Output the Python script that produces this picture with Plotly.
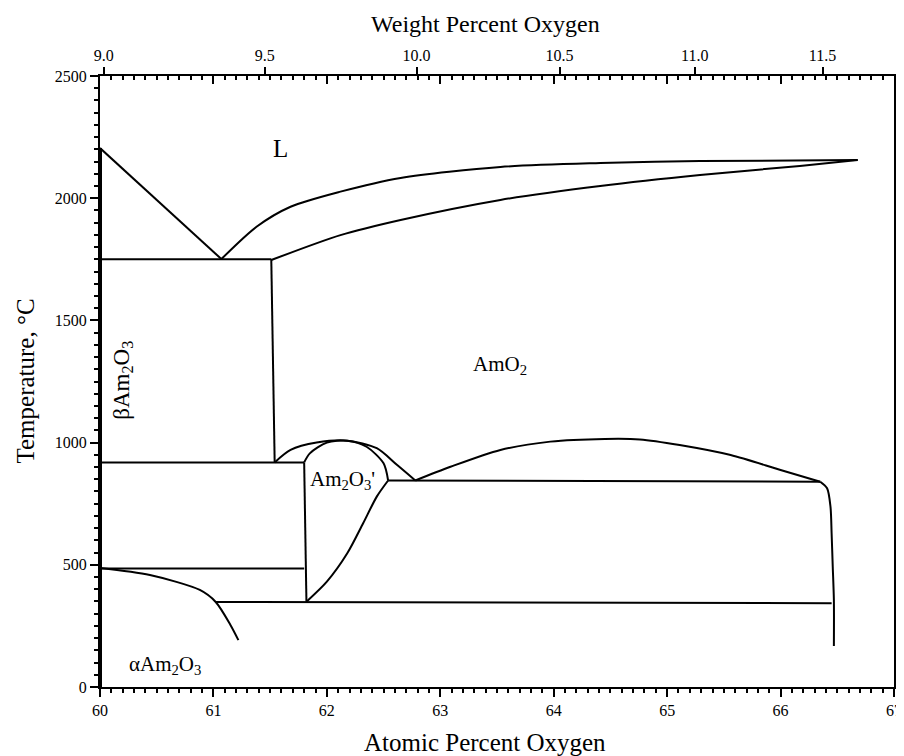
import plotly.graph_objects as go

# ---------------- data (atomic % O, temperature °C) ----------------
liq_left_x = [60.0, 61.07]
liq_left_T = [2205, 1751]

liq_right_x = [61.07, 61.38, 61.68, 62.12, 62.65, 63.53, 64.41, 65.29, 66.68]
liq_right_T = [1751, 1883, 1965, 2027, 2083, 2128, 2144, 2152, 2156]

sol_right_x = [61.51, 62.12, 62.65, 63.53, 64.41, 65.29, 66.17, 66.68]
sol_right_T = [1747, 1849, 1911, 1993, 2050, 2095, 2132, 2156]

eut_x = [60.0, 61.51]
eut_T = [1750, 1750]

vert_x = [61.51, 61.54]
vert_T = [1750, 919]

iso920_x = [60.0, 61.80]
iso920_T = [919, 919]

arc1_x = [61.54, 61.68, 61.91, 62.18, 62.44, 62.62, 62.78]
arc1_T = [919, 970, 1000, 1008, 977, 908, 845]

dome_x = [61.80, 61.85, 62.00, 62.18, 62.35, 62.50, 62.54]
dome_T = [919, 956, 1000, 1008, 983, 915, 845]

dome_left_x = [61.80, 61.82]
dome_left_T = [919, 349]

dome_low_x = [61.82, 62.00, 62.18, 62.32, 62.44, 62.54]
dome_low_T = [349, 431, 547, 670, 779, 845]

iso845_x = [62.54, 66.35]
iso845_T = [845, 840]

arc2_x = [62.78, 63.09, 63.53, 63.97, 64.45, 64.76, 65.11, 65.56, 66.00, 66.35]
arc2_T = [845, 901, 970, 1004, 1015, 1013, 990, 949, 888, 840]

amo2_x = [66.35, 66.41, 66.44, 66.45, 66.46, 66.47, 66.47]
amo2_T = [840, 813, 738, 629, 492, 356, 168]

iso485_x = [60.0, 61.80]
iso485_T = [485, 485]

iso345_x = [61.02, 66.45]
iso345_T = [348, 343]

alpha_x = [60.0, 60.44, 60.88, 61.02, 61.15, 61.22]
alpha_T = [487, 458, 397, 348, 254, 192]

left_x = [60.0, 60.0]
left_T = [0, 2205]

# weight percent tick labels for the top axis
wt_ticks = [9.0, 9.5, 10.0, 10.5, 11.0, 11.5]
M_AM, M_O = 243.0, 16.0


def wt_to_at(w):
    w = w / 100.0
    r = (w / M_O) / ((1 - w) / M_AM)
    return 100.0 * r / (1 + r)


wt_pos = [wt_to_at(w) for w in wt_ticks]

# ---------------- figure ----------------
fig = go.Figure()
LW = 2
col = "black"


def add(x, y, smooth=False, width=LW):
    fig.add_trace(go.Scatter(
        x=x, y=y, mode="lines",
        line=dict(color=col, width=width, shape="spline" if smooth else "linear",
                  smoothing=0.8),
        hoverinfo="skip", showlegend=False))


add(left_x, left_T, width=4)
add(liq_left_x, liq_left_T)
add(liq_right_x, liq_right_T, True)
add(sol_right_x, sol_right_T, True)
add(eut_x, eut_T)
add(vert_x, vert_T)
add(iso920_x, iso920_T)
add(arc1_x, arc1_T, True)
add(dome_x, dome_T, True)
add(dome_left_x, dome_left_T)
add(dome_low_x, dome_low_T, True)
add(iso845_x, iso845_T)
add(arc2_x, arc2_T, True)
add(amo2_x, amo2_T, True)
add(iso485_x, iso485_T)
add(iso345_x, iso345_T)
add(alpha_x, alpha_T, True)

# invisible traces to activate top axes
fig.add_trace(go.Scatter(x=[60, 67], y=[0, 0], xaxis="x2", mode="markers",
                         marker=dict(opacity=0), hoverinfo="skip", showlegend=False))
fig.add_trace(go.Scatter(x=[60, 67], y=[0, 0], xaxis="x3", mode="markers",
                         marker=dict(opacity=0), hoverinfo="skip", showlegend=False))

FONT = "Liberation Serif"
tickfont = dict(family=FONT, size=16, color="black")

# page has an 8px body margin, so plot area 100..894 x 76..687 on the page
fig.update_layout(
    width=904, height=756,
    margin=dict(l=92, r=18, t=68, b=77, autoexpand=False),
    paper_bgcolor="white", plot_bgcolor="white",
    font=dict(family=FONT, color="black"),
    xaxis=dict(range=[60, 67], dtick=1, tick0=60, ticks="outside", ticklen=8,
               tickwidth=1.5, tickcolor="black", showline=True, linecolor="black",
               linewidth=2, showgrid=False, zeroline=False, tickfont=tickfont,
               automargin=False,
               minor=dict(dtick=0.1, ticklen=4, tickcolor="black", ticks="outside")),
    xaxis3=dict(range=[60, 67], overlaying="x", side="top", dtick=1, tick0=60,
                ticks="inside", ticklen=8, tickwidth=1.5, tickcolor="black",
                showline=True, linecolor="black", linewidth=2, showgrid=False,
                zeroline=False, showticklabels=False, automargin=False,
                minor=dict(dtick=0.1, ticklen=4, tickcolor="black", ticks="inside")),
    xaxis2=dict(range=[60, 67], overlaying="x", side="top", tickmode="array",
                tickvals=wt_pos, ticktext=[f"{w:.1f}" for w in wt_ticks],
                ticks="outside", ticklen=8, tickwidth=1.5, tickcolor="black",
                showline=False, showgrid=False, zeroline=False, tickfont=tickfont,
                automargin=False),
    yaxis=dict(range=[0, 2500], dtick=500, ticks="outside", ticklen=8, tickwidth=1.5,
               tickcolor="black", showline=True, linecolor="black", linewidth=2,
               mirror="ticks", showgrid=False, zeroline=False, tickfont=tickfont,
               automargin=False,
               minor=dict(dtick=50, ticklen=4, tickcolor="black", ticks="outside")),
)

ann = []
TF = dict(family=FONT, size=25, color="black")
ann.append(dict(text="Weight Percent Oxygen", x=(485 - 100) / 794, y=(687 - 24) / 611,
                xref="paper", yref="paper", showarrow=False,
                font=dict(family=FONT, size=24, color="black"),
                xanchor="center", yanchor="middle", borderpad=0))
ann.append(dict(text="Atomic Percent Oxygen", x=(485 - 100) / 794, y=(687 - 742) / 611,
                xref="paper", yref="paper", showarrow=False, font=TF,
                xanchor="center", yanchor="middle"))
ann.append(dict(text="Temperature, °C", x=(25 - 100) / 794, y=0.5,
                xref="paper", yref="paper", showarrow=False, textangle=-90, font=TF,
                xanchor="center", yanchor="middle"))

lab = dict(family=FONT, size=21, color="black")
ann.append(dict(text="L", x=61.59, y=2205, showarrow=False, font=dict(family=FONT, size=25)))
ann.append(dict(text="AmO<sub>2</sub>", x=63.53, y=1317, showarrow=False, font=lab))
ann.append(dict(text="βAm<sub>2</sub>O<sub>3</sub>", x=60.20, y=1256, showarrow=False,
                textangle=-90, font=dict(family=FONT, size=23, color="black")))
ann.append(dict(text="Am<sub>2</sub>O<sub>3</sub>'", x=62.14, y=845, showarrow=False, font=lab))
ann.append(dict(text="αAm<sub>2</sub>O<sub>3</sub>", x=60.57, y=90, showarrow=False, font=lab))
fig.update_layout(annotations=ann)

fig.write_html("out.html")
